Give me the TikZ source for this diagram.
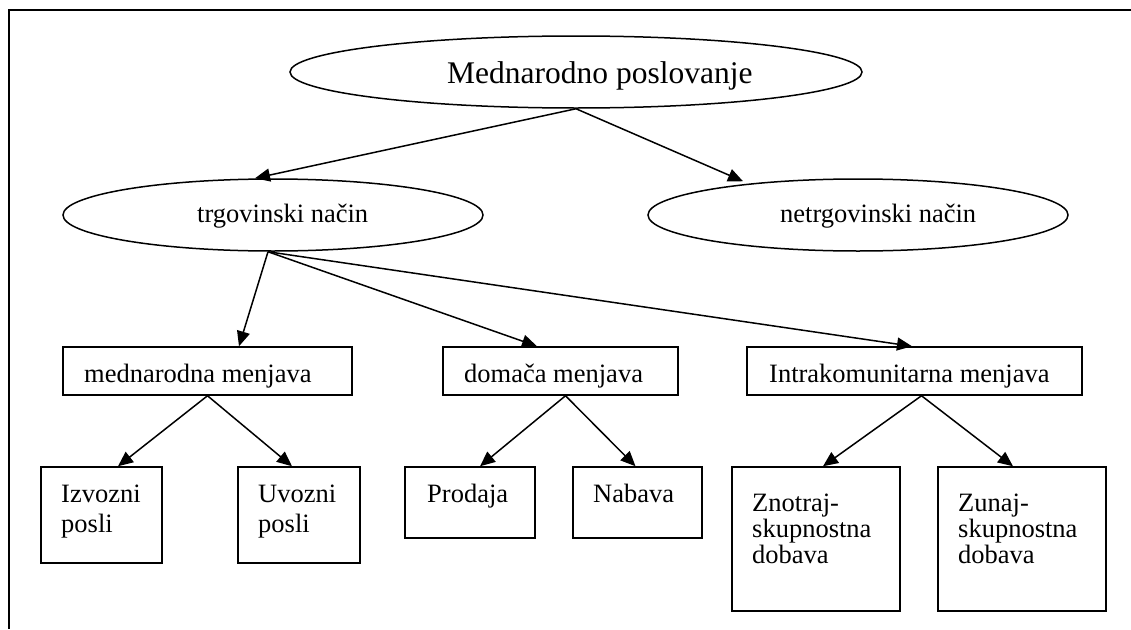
\documentclass[tikz,border=0pt]{standalone}
\usepackage{fontspec}
\setmainfont{Liberation Serif}
\usetikzlibrary{arrows.meta,calc,shapes.geometric}
\begin{document}
\begin{tikzpicture}[x=1pt,y=-1pt,
  ell/.style={draw, ellipse, line width=1.5pt, inner sep=0pt},
  box/.style={draw, rectangle, line width=1.5pt, inner sep=0pt},
  big/.style={inner sep=0pt, anchor=base west, font=\fontsize{31.5}{36}\selectfont},
  txt/.style={inner sep=0pt, anchor=base west, font=\fontsize{26.5}{30}\selectfont},
  arr/.style={line width=1.5pt, -{Triangle[length=15pt,width=13pt]}}]
\useasboundingbox (0,0) rectangle (1131,629);
% frame
\draw[line width=1.7pt] (1131,10) -- (9,10) -- (9,629);
% ellipses
\node[ell, minimum width=572pt, minimum height=72pt] (md) at (576,72) {};
\node[ell, minimum width=420pt, minimum height=72pt] (tr) at (273,215) {};
\node[ell, minimum width=420pt, minimum height=72pt] (nt) at (858,215) {};
\node[big] (tmd) at (447,83) {Mednarodno poslovanje};
\node[txt] (ttr) at (197,222) {trgovinski način};
\node[txt] (tnt) at (780,222) {netrgovinski način};
% level-1 boxes
\node[box, minimum width=289pt, minimum height=48pt] (mm) at (207.5,371) {};
\node[box, minimum width=235pt, minimum height=48pt] (dm) at (560.5,371) {};
\node[box, minimum width=335pt, minimum height=48pt] (im) at (914.5,371) {};
\node[txt] (tmm) at (84,382) {mednarodna menjava};
\node[txt] (tdm) at (464,382) {domača menjava};
\node[txt] (tim) at (769,382) {Intrakomunitarna menjava};
% level-2 boxes
\node[box, minimum width=121pt, minimum height=96pt] (iz) at (101.5,515) {};
\node[box, minimum width=122pt, minimum height=96pt] (uv) at (299,515) {};
\node[box, minimum width=130pt, minimum height=71pt] (pr) at (470,502.5) {};
\node[box, minimum width=129pt, minimum height=71pt] (nb) at (637.5,502.5) {};
\node[box, minimum width=168pt, minimum height=144pt] (zn) at (816,539) {};
\node[box, minimum width=168pt, minimum height=144pt] (zu) at (1022,539) {};
\node[txt] (tiz1) at (61,502) {Izvozni};
\node[txt] (tiz2) at (61,532) {posli};
\node[txt] (tuv1) at (258,502) {Uvozni};
\node[txt] (tuv2) at (258,532) {posli};
\node[txt] (tpr) at (427,502) {Prodaja};
\node[txt] (tnb) at (593,502) {Nabava};
\node[txt] (tzn1) at (752,511) {Znotraj-};
\node[txt] (tzn2) at (752,537) {skupnostna};
\node[txt] (tzn3) at (752,563) {dobava};
\node[txt] (tzu1) at (958,511) {Zunaj-};
\node[txt] (tzu2) at (958,537) {skupnostna};
\node[txt] (tzu3) at (958,563) {dobava};
% connectors
\draw[arr] (md.south) -- ($(tr.north)+(-18,0)$);
\draw[arr] (md.south) -- ($(nt.north)+(-115,3)$);
\draw[arr] ($(tr.south)+(-5,0)$) -- ($(mm.north)+(31.5,0)$);
\draw[arr] ($(tr.south)+(-5,0)$) -- ($(dm.north)+(-23.5,0)$);
\draw[arr] ($(tr.south)+(-5,0)$) -- ($(im.north)+(-2.5,0)$);
\draw[arr] (mm.south) -- ($(iz.north)+(16.5,0)$);
\draw[arr] (mm.south) -- ($(uv.north)+(-7,0)$);
\draw[arr] ($(dm.south)+(5,0)$) -- ($(pr.north)+(10,0)$);
\draw[arr] ($(dm.south)+(5,0)$) -- ($(nb.north)+(-2,0)$);
\draw[arr] ($(im.south)+(7,0)$) -- ($(zn.north)+(7,0)$);
\draw[arr] ($(im.south)+(7,0)$) -- ($(zu.north)+(-9,0)$);
\end{tikzpicture}
\end{document}
